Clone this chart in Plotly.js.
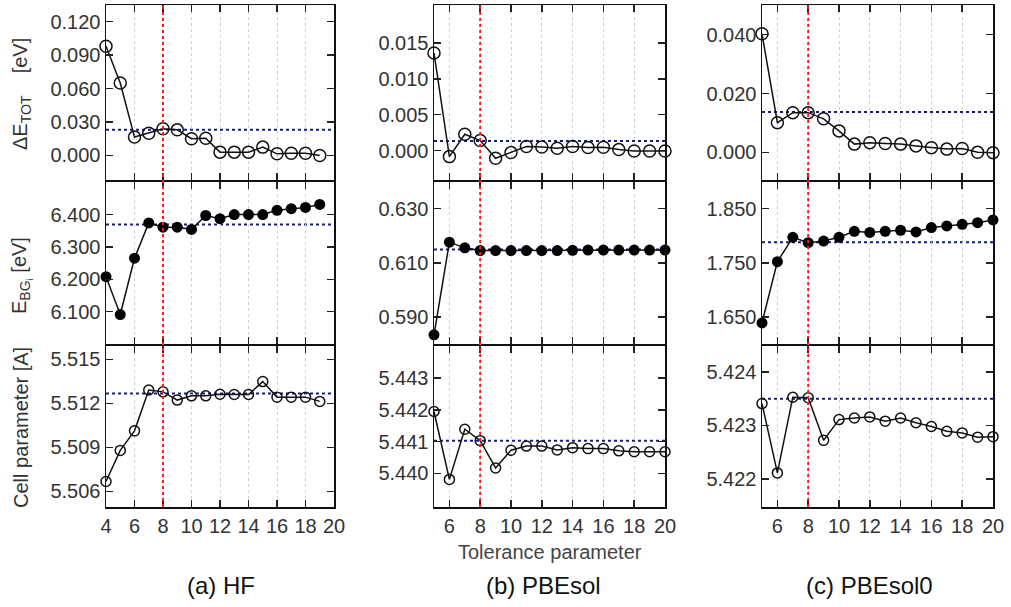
<!DOCTYPE html>
<html><head><meta charset="utf-8">
<script src="https://cdn.plot.ly/plotly-3.0.1.min.js"></script>
<style>html,body{margin:0;padding:0;background:#fff}#chart{width:1011px;height:607px}</style>
</head><body><div id="chart"></div>
<script>
// ---------- data ----------
const xHF    = [4,5,6,7,8,9,10,11,12,13,14,15,16,17,18,19];
const xSol   = [5,6,7,8,9,10,11,12,13,14,15,16,17,18,19,20];
const xSol0  = [5,6,7,8,9,10,11,12,13,14,15,16,17,18,19,20];

const dE_HF    = [0.098,0.065,0.0165,0.020,0.024,0.023,0.015,0.0155,0.003,0.003,0.003,0.0075,0.0015,0.002,0.002,0.000];
const bg_HF    = [6.208,6.091,6.265,6.374,6.361,6.361,6.354,6.397,6.387,6.400,6.400,6.400,6.413,6.418,6.422,6.431];
const cell_HF  = [5.50668,5.50880,5.51013,5.51292,5.51279,5.51223,5.51252,5.51252,5.51263,5.51261,5.51261,5.51349,5.51243,5.51243,5.51243,5.51214];

const dE_Sol   = [0.01361,-0.00084,0.00228,0.0014,-0.00107,-0.00028,0.00056,0.00051,0.00033,0.00056,0.00042,0.00047,0.00014,-0.00005,-0.00005,-0.00005];
const bg_Sol   = [0.5834,0.6176,0.6155,0.6145,0.6145,0.6145,0.6145,0.6145,0.6145,0.6146,0.6147,0.6147,0.6147,0.6147,0.6147,0.6147];
const cell_Sol = [5.44195,5.43981,5.44139,5.44103,5.44017,5.44073,5.44086,5.44086,5.44074,5.44081,5.44078,5.44078,5.44071,5.44068,5.44068,5.44068];

const dE_Sol0   = [0.0403,0.0101,0.0135,0.0135,0.0114,0.0073,0.0028,0.0033,0.0030,0.0028,0.0022,0.0016,0.0011,0.0013,0.0000,-0.0001];
const bg_Sol0   = [1.639,1.752,1.797,1.787,1.790,1.797,1.808,1.806,1.808,1.810,1.807,1.815,1.818,1.821,1.824,1.829];
const cell_Sol0 = [5.42341,5.42211,5.42353,5.42352,5.42272,5.42311,5.42314,5.42316,5.42308,5.42314,5.42305,5.42298,5.42289,5.42286,5.42278,5.42279];

// reference (converged) values shown as dotted horizontal lines: [HF, PBEsol, PBEsol0]
const refE    = [0.023, 0.00135, 0.01375];
const refBG   = [6.369, 0.6149, 1.788];
const refCell = [5.51268, 5.44103, 5.4235];
// chosen tolerance (red dotted line)
const chosenTol = [8, 8, 8];

// tick labels
const xTicksHF  = [4,6,8,10,12,14,16,18,20];
const xTicksSol = [6,8,10,12,14,16,18,20];
const yTicksE    = [[0,0.03,0.06,0.09,0.12],[0,0.005,0.010,0.015],[0,0.02,0.04]];
const yTicksBG   = [[6.1,6.2,6.3,6.4],[0.59,0.61,0.63],[1.65,1.75,1.85]];
const yTicksCell = [[5.506,5.509,5.512,5.515],[5.440,5.441,5.442,5.443],[5.422,5.423,5.424]];

const panelTitles = ['(a) HF','(b) PBEsol','(c) PBEsol0'];
const rowTitles = ['ΔE<sub>TOT</sub>\u00A0\u00A0\u00A0\u00A0[eV]', 'E<sub>BG<sub>i</sub></sub> [eV]', 'Cell parameter [A]'];
const xTitle = 'Tolerance parameter';

// ---------- layout geometry ----------
const W = 1011, H = 607, LW = 1.5;
const colPx = [[106,334],[434,665],[762,993]];
// rows touch: each lower row starts one line-width lower so the shared frame lines coincide
const rowPx = [[5,180],[180+LW,344],[344+LW,507]];
const xRanges = [[4,20],[5,20],[5,20]];
const yRanges = [
  [[-0.022,0.135],[-0.0041,0.0203],[-0.0094,0.0501]],
  [[6.0,6.502],[0.580,0.640],[1.600,1.900]],
  [[5.50494,5.51595],[5.43894,5.44403],[5.42147,5.4245]]
];
const xs = [xHF, xSol, xSol0];
const series = [[dE_HF,dE_Sol,dE_Sol0],[bg_HF,bg_Sol,bg_Sol0],[cell_HF,cell_Sol,cell_Sol0]];
const refs = [refE, refBG, refCell];
const yTicks = [yTicksE, yTicksBG, yTicksCell];
const xTicks = [xTicksHF, xTicksSol, xTicksSol];

const FONT = 'Liberation Sans, Arial, Helvetica, sans-serif';
const traces = [], shapes = [], annotations = [];
const layout = {
  width: W, height: H, margin: {l:0,r:0,t:0,b:0},
  paper_bgcolor: '#fff', plot_bgcolor: '#fff', showlegend: false,
  font: {family: FONT, size: 20, color: '#333'}
};

for (let r = 0; r < 3; r++) {
  for (let c = 0; c < 3; c++) {
    const i = r*3 + c + 1;
    const xn = 'x' + (i===1?'':i), yn = 'y' + (i===1?'':i);
    const xk = 'xaxis' + (i===1?'':i), yk = 'yaxis' + (i===1?'':i);
    layout[xk] = {
      domain: [colPx[c][0]/W, colPx[c][1]/W], anchor: yn, range: xRanges[c],
      tickmode: 'array', tickvals: xTicks[c], showticklabels: r === 2,
      ticks: 'inside', ticklen: 7, tickwidth: 1.5, tickcolor: '#222',
      showline: true, mirror: 'ticks', linecolor: '#111', linewidth: LW,
      showgrid: true, gridcolor: '#d2d2d2', griddash: 'dot', gridwidth: 1,
      zeroline: false, tickfont: {size: 20, color: '#333'}
    };
    layout[yk] = {
      domain: [1 - rowPx[r][1]/H, 1 - rowPx[r][0]/H], anchor: xn, range: yRanges[r][c],
      tickmode: 'array', tickvals: yTicks[r][c], tickformat: '.3f',
      ticks: 'inside', ticklen: 7, tickwidth: 1.5, tickcolor: '#222',
      showline: true, mirror: 'ticks', linecolor: '#111', linewidth: LW,
      showgrid: false, zeroline: false, tickfont: {size: 20, color: '#333'}
    };
    const filled = r === 1;
    traces.push({
      type: 'scatter', mode: 'lines+markers', x: xs[c], y: series[r][c],
      xaxis: xn, yaxis: yn, cliponaxis: false,
      line: {color: '#111', width: 1.5},
      marker: filled ? {symbol: 'circle', size: 11, color: '#000'}
                     : {symbol: 'circle-open', size: r===0 ? 12 : 10, color: '#111', line: {width: 1.5, color: '#111'}}
    });
    shapes.push({
      type: 'line', xref: xn + ' domain', x0: 0, x1: 1, yref: yn, y0: refs[r][c], y1: refs[r][c],
      line: {color: '#1b1b7a', width: 2, dash: 'dot'}, layer: 'below'
    });
  }
}
for (let c = 0; c < 3; c++) {
  const xn = 'x' + (c===0?'':(c+1));
  shapes.push({
    type: 'line', xref: xn, x0: chosenTol[c], x1: chosenTol[c], yref: 'paper',
    y0: 1 - rowPx[2][1]/H, y1: 1 - rowPx[0][0]/H,
    line: {color: '#ff1a1a', width: 2, dash: 'dot'}, layer: 'above'
  });
}
const rowTitleY = [94, 276, 428];
for (let r = 0; r < 3; r++) {
  annotations.push({
    xref: 'paper', yref: 'paper', x: 21/W, y: 1 - rowTitleY[r]/H, xanchor: 'center', yanchor: 'middle',
    text: rowTitles[r], textangle: -90, showarrow: false, font: {size: 20, color: '#333', family: FONT}
  });
}
annotations.push({
  xref: 'paper', yref: 'paper', x: 550/W, y: 1 - 552/H, xanchor: 'center', yanchor: 'middle',
  text: xTitle, showarrow: false, font: {size: 20, color: '#444', family: FONT}
});
const capX = [221, 543, 869];
for (let c = 0; c < 3; c++) {
  annotations.push({
    xref: 'paper', yref: 'paper', x: capX[c]/W, y: 1 - 585/H, xanchor: 'center', yanchor: 'middle',
    text: panelTitles[c], showarrow: false, font: {size: 24, color: '#111', family: FONT}
  });
}
layout.shapes = shapes;
layout.annotations = annotations;
Plotly.newPlot('chart', traces, layout, {displayModeBar: false, staticPlot: true});
</script>
</body></html>
